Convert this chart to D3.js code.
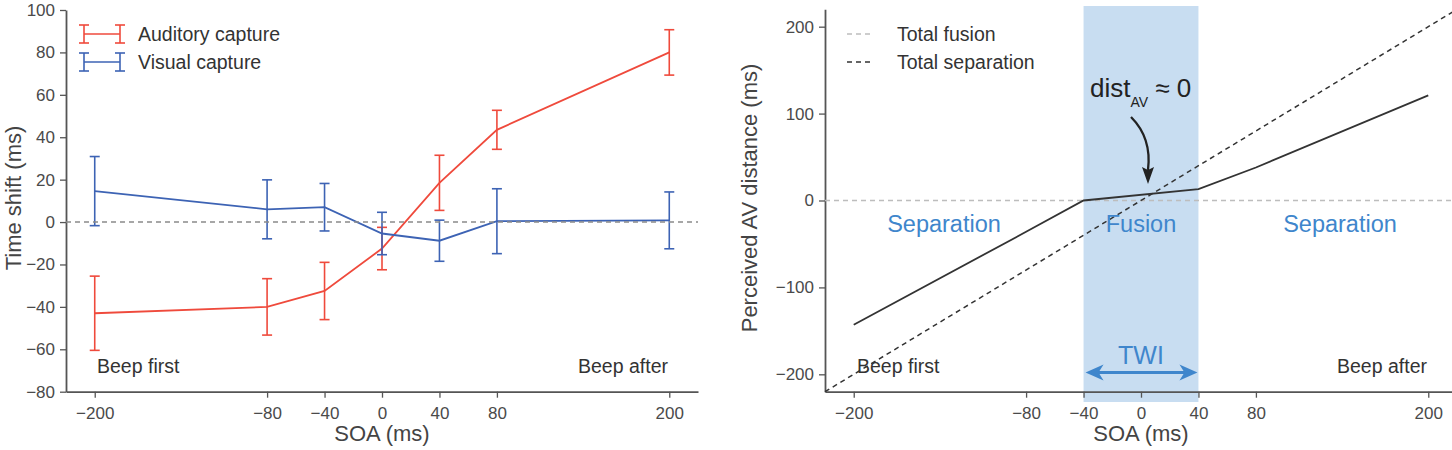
<!DOCTYPE html>
<html>
<head>
<meta charset="utf-8">
<script src="https://cdn.jsdelivr.net/npm/d3@7"></script>
<style>
  html, body { margin: 0; padding: 0; background: #fff; }
  svg { display: block; font-family: "Liberation Sans", Arial, Helvetica, sans-serif; }
</style>
</head>
<body>
<svg id="chart" width="1452" height="450"></svg>
<script>
// ---------------- data ----------------
const soa = [-200, -80, -40, 0, 40, 80, 200];
const auditoryMean = [-43, -40, -32.5, -12.5, 18.5, 43.5, 80];
const auditoryErr  = [17.5, 13.3, 13.5, 10, 13, 9.2, 10.7];
const visualMean   = [14.6, 6, 7, -5.4, -8.8, 0.4, 0.8];
const visualErr    = [16.3, 13.9, 11.2, 10, 9.7, 15.3, 13.4];

const xTicks = [-200, -80, -40, 0, 40, 80, 200];
const leftYTicks = [-80, -60, -40, -20, 0, 20, 40, 60, 80, 100];
const rightYTicks = [-200, -100, 0, 100, 200];

const perceivedSoa  = [-200, -80, -40, 40, 80, 200];
const perceivedDist = [-143, -36, 0, 13, 38, 121];
const separationLine = [-220, 220];
const twiRange = [-40, 40];

const leftLegend = ["Auditory capture", "Visual capture"];
const rightLegend = ["Total fusion", "Total separation"];

// ---------------- styles ----------------
const RED = "#ef4a3c", BLUE = "#3d63b4", TXT = "#4a4a4a", SPINE = "#555";
const REGION = "#3f86cc", BAND = "#c8ddf1";

const svg = d3.select("#chart");

// ---------------- scales ----------------
const xL = d3.scaleLinear().domain([-220, 220]).range([66, 698]);
const yL = d3.scaleLinear().domain([-80, 100]).range([391.7, 10]);
const xR = d3.scaleLinear().domain([-220, 220]).range([825, 1457]);
const yR = d3.scaleLinear().domain([-220, 220]).range([391.7, 9.3]);

function styleAxis(g) {
  g.selectAll(".domain").attr("stroke", SPINE).attr("stroke-width", 1.8);
  g.selectAll(".tick line").attr("stroke", SPINE).attr("stroke-width", 1.3);
  g.selectAll(".tick text").attr("fill", TXT).style("font-size", "17px")
    .style("font-family", "'Liberation Sans', Arial, sans-serif");
}

// ================= LEFT PANEL =================
const gL = svg.append("g");

// axes
gL.append("g").attr("transform", `translate(0,${yL(-80)})`)
  .call(d3.axisBottom(xL).tickValues(xTicks).tickSize(6).tickSizeOuter(0).tickPadding(9))
  .call(styleAxis);
gL.append("g").attr("transform", `translate(${xL(-220)},0)`)
  .call(d3.axisLeft(yL).tickValues(leftYTicks).tickSize(6).tickSizeOuter(0).tickPadding(5))
  .call(styleAxis);

// series
const line = d3.line();
function drawSeries(means, errs, color) {
  const pts = soa.map((s, i) => [xL(s), yL(means[i])]);
  gL.append("path").attr("d", line(pts)).attr("fill", "none")
    .attr("stroke", color).attr("stroke-width", 1.8);
  const eb = gL.append("g").attr("stroke", color).attr("stroke-width", 1.6).attr("fill", "none");
  soa.forEach((s, i) => {
    const x = xL(s), y0 = yL(means[i] - errs[i]), y1 = yL(means[i] + errs[i]);
    eb.append("line").attr("x1", x).attr("x2", x).attr("y1", y0).attr("y2", y1);
    eb.append("line").attr("x1", x - 5).attr("x2", x + 5).attr("y1", y0).attr("y2", y0);
    eb.append("line").attr("x1", x - 5).attr("x2", x + 5).attr("y1", y1).attr("y2", y1);
  });
}
drawSeries(auditoryMean, auditoryErr, RED);
drawSeries(visualMean, visualErr, BLUE);

// zero line
gL.append("line").attr("x1", xL(-220)).attr("x2", xL(220))
  .attr("y1", yL(0)).attr("y2", yL(0))
  .attr("stroke", "#8a8a8a").attr("stroke-width", 1.6).attr("stroke-dasharray", "5,4");

// legend
[RED, BLUE].forEach((c, i) => {
  const cy = 34 + i * 28;
  const lg = gL.append("g").attr("stroke", c).attr("stroke-width", 1.6);
  lg.append("line").attr("x1", 84).attr("x2", 120).attr("y1", cy).attr("y2", cy);
  lg.append("line").attr("x1", 84).attr("x2", 84).attr("y1", cy - 9).attr("y2", cy + 9);
  lg.append("line").attr("x1", 120).attr("x2", 120).attr("y1", cy - 9).attr("y2", cy + 9);
  lg.append("line").attr("x1", 79).attr("x2", 89).attr("y1", cy - 9).attr("y2", cy - 9);
  lg.append("line").attr("x1", 79).attr("x2", 89).attr("y1", cy + 9).attr("y2", cy + 9);
  lg.append("line").attr("x1", 115).attr("x2", 125).attr("y1", cy - 9).attr("y2", cy - 9);
  lg.append("line").attr("x1", 115).attr("x2", 125).attr("y1", cy + 9).attr("y2", cy + 9);
  gL.append("text").attr("x", 138).attr("y", cy + 7).attr("fill", "#333")
    .style("font-size", "19.5px").text(leftLegend[i]);
});

// beep labels
gL.append("text").attr("x", 97).attr("y", 373).attr("fill", "#333")
  .style("font-size", "19.5px").text("Beep first");
gL.append("text").attr("x", 668).attr("y", 373).attr("fill", "#333")
  .attr("text-anchor", "end").style("font-size", "19.5px").text("Beep after");

// axis labels
gL.append("text").attr("x", xL(0)).attr("y", 441).attr("text-anchor", "middle")
  .attr("fill", "#444").style("font-size", "22px").text("SOA (ms)");
gL.append("text").attr("transform", `translate(21,198) rotate(-90)`)
  .attr("text-anchor", "middle").attr("fill", "#444").style("font-size", "22px")
  .text("Time shift (ms)");

// ================= RIGHT PANEL =================
const gR = svg.append("g");

// TWI band
gR.append("rect").attr("x", xR(twiRange[0])).attr("width", xR(twiRange[1]) - xR(twiRange[0]))
  .attr("y", 6).attr("height", 402 - 6).attr("fill", BAND);

// axes
gR.append("g").attr("transform", `translate(0,${yR(-220)})`)
  .call(d3.axisBottom(xR).tickValues(xTicks).tickSize(6).tickSizeOuter(0).tickPadding(9))
  .call(styleAxis);
gR.append("g").attr("transform", `translate(${xR(-220)},0)`)
  .call(d3.axisLeft(yR).tickValues(rightYTicks).tickSize(6).tickSizeOuter(0).tickPadding(5))
  .call(styleAxis);

// total fusion (zero) line
gR.append("line").attr("x1", xR(-220)).attr("x2", xR(220))
  .attr("y1", yR(0)).attr("y2", yR(0))
  .attr("stroke", "#bdbdbd").attr("stroke-width", 1.6).attr("stroke-dasharray", "5,4");
// total separation diagonal
gR.append("line").attr("x1", xR(separationLine[0])).attr("y1", yR(separationLine[0]))
  .attr("x2", xR(separationLine[1])).attr("y2", yR(separationLine[1]))
  .attr("stroke", "#333").attr("stroke-width", 1.5).attr("stroke-dasharray", "5,4");

// perceived line
gR.append("path").attr("d", line(perceivedSoa.map((s, i) => [xR(s), yR(perceivedDist[i])])))
  .attr("fill", "none").attr("stroke", "#333").attr("stroke-width", 1.8);

// legend
[["#bdbdbd"], ["#333"]].forEach((c, i) => {
  const cy = 34 + i * 28;
  gR.append("line").attr("x1", 847).attr("x2", 873).attr("y1", cy).attr("y2", cy)
    .attr("stroke", c[0]).attr("stroke-width", 1.5).attr("stroke-dasharray", "5,4");
  gR.append("text").attr("x", 897).attr("y", cy + 7).attr("fill", "#333")
    .style("font-size", "19.5px").text(rightLegend[i]);
});

// region labels
const regionY = 232;
gR.append("text").attr("x", 944).attr("y", regionY).attr("text-anchor", "middle")
  .attr("fill", REGION).style("font-size", "23.5px").text("Separation");
gR.append("text").attr("x", xR(0)).attr("y", regionY).attr("text-anchor", "middle")
  .attr("fill", REGION).style("font-size", "23.5px").text("Fusion");
gR.append("text").attr("x", 1340).attr("y", regionY).attr("text-anchor", "middle")
  .attr("fill", REGION).style("font-size", "23.5px").text("Separation");

// TWI label and double arrow
gR.append("text").attr("x", xR(0)).attr("y", 364).attr("text-anchor", "middle")
  .attr("fill", REGION).style("font-size", "25px").text("TWI");
const ay = 372.5, ax0 = xR(twiRange[0]) + 2, ax1 = xR(twiRange[1]) - 1;
gR.append("line").attr("x1", ax0 + 10).attr("x2", ax1 - 10).attr("y1", ay).attr("y2", ay)
  .attr("stroke", REGION).attr("stroke-width", 3);
gR.append("path").attr("d", `M${ax0},${ay} L${ax0 + 18},${ay - 8} L${ax0 + 13},${ay} L${ax0 + 18},${ay + 8} Z`)
  .attr("fill", REGION);
gR.append("path").attr("d", `M${ax1},${ay} L${ax1 - 18},${ay - 8} L${ax1 - 13},${ay} L${ax1 - 18},${ay + 8} Z`)
  .attr("fill", REGION);

// dist_AV annotation
const dt = gR.append("text").attr("x", 1090).attr("y", 97).attr("fill", "#222").style("font-size", "26px");
dt.append("tspan").text("dist");
dt.append("tspan").attr("dy", 10).style("font-size", "14px").text("AV");
dt.append("tspan").attr("dy", -10).text(" ≈ 0");

gR.append("path").attr("d", "M1131,117 Q1152,138 1148,170")
  .attr("fill", "none").attr("stroke", "#222").attr("stroke-width", 2.3);
gR.append("path").attr("d", "M1148,184 L1142,167 L1148,170 L1154,167 Z").attr("fill", "#222");

// beep labels
gR.append("text").attr("x", 857).attr("y", 373).attr("fill", "#333")
  .style("font-size", "19.5px").text("Beep first");
gR.append("text").attr("x", 1427).attr("y", 373).attr("fill", "#333")
  .attr("text-anchor", "end").style("font-size", "19.5px").text("Beep after");

// axis labels
gR.append("text").attr("x", xR(0)).attr("y", 441).attr("text-anchor", "middle")
  .attr("fill", "#444").style("font-size", "22px").text("SOA (ms)");
gR.append("text").attr("transform", `translate(757,198) rotate(-90)`)
  .attr("text-anchor", "middle").attr("fill", "#444").style("font-size", "22px")
  .text("Perceived AV distance (ms)");
</script>
</body>
</html>
